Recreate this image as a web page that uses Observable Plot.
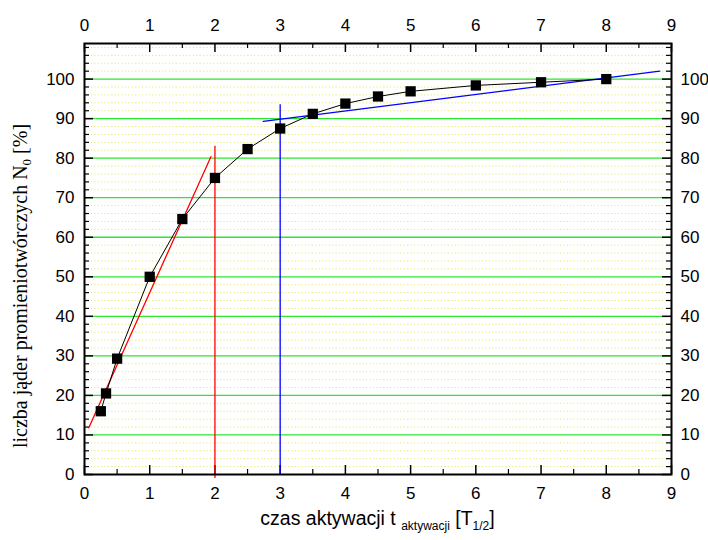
<!DOCTYPE html>
<html>
<head>
<meta charset="utf-8">
<script src="https://cdn.jsdelivr.net/npm/d3@7"></script>
<script src="https://cdn.jsdelivr.net/npm/@observablehq/plot@0.6"></script>
<style>
  body { margin: 0; background: #fff; }
  #chart svg { display: block; }
  #chart svg text.ylab, #chart svg text.ylab tspan { font-family: "Liberation Serif", "DejaVu Serif", "Noto Serif", serif !important; }
</style>
</head>
<body>
<div id="chart"></div>
<script>
// Data
const tValues = [0.25, 0.33, 0.5, 1, 1.5, 2, 2.5, 3, 3.5, 4, 4.5, 5, 6, 7, 8];
const nValues = [16, 20.5, 29.3, 50, 64.6, 75, 82.3, 87.5, 91.2, 93.8, 95.6, 96.9, 98.4, 99.2, 100];

// fitted straight lines (end points)
const redFitT = [0.066, 1.94];
const redFitN = [11.8, 80.4];
const blueFitT = [2.74, 8.82];
const blueFitN = [89.3, 102];

// vertical markers
const redVert = {t: 2, n1: -1, n2: 83};
const blueVert = {t: 3, n1: 0, n2: 93.5};

// ticks
const xMajorTicks = [0, 1, 2, 3, 4, 5, 6, 7, 8, 9];
const xMinorTicks = [0.5, 1.5, 2.5, 3.5, 4.5, 5.5, 6.5, 7.5, 8.5];
const yMajorTicks = [0, 10, 20, 30, 40, 50, 60, 70, 80, 90, 100];
const yMinorTicks = d3.range(2, 110, 2).filter(v => v % 10 !== 0);
const yGridMajor = [10, 20, 30, 40, 50, 60, 70, 80, 90, 100];

const points = tValues.map((t, i) => ({t, n: nValues[i]}));
const redFit = redFitT.map((t, i) => ({t, n: redFitN[i]}));
const blueFit = blueFitT.map((t, i) => ({t, n: blueFitN[i]}));

const W = 708, H = 540;
const mL = 84, mR = 37, mT = 43, mB = 66;
const fw = W - mL - mR, fh = H - mT - mB;
const font = "'Liberation Sans', Arial, sans-serif";

const chart = Plot.plot({
  width: W,
  height: H,
  marginLeft: mL,
  marginRight: mR,
  marginTop: mT,
  marginBottom: mB,
  style: {fontFamily: font, fontSize: "17px", color: "black", background: "white"},
  x: {domain: [0, 9]},
  y: {domain: [0, 109]},
  marks: [
    // grid
    Plot.ruleY(yMinorTicks, {stroke: "#e8e870", strokeWidth: 1, strokeDasharray: "1.2,2.2"}),
    Plot.ruleY(yGridMajor, {stroke: "#2ee62e", strokeWidth: 1.3}),
    // axes text
    Plot.axisX(xMajorTicks, {anchor: "bottom", tickSize: 0, tickPadding: 12, label: null, fontSize: 17}),
    Plot.axisX(xMajorTicks, {anchor: "top", tickSize: 0, tickPadding: 13, label: null, fontSize: 17}),
    Plot.axisY(yMajorTicks, {anchor: "left", tickSize: 0, tickPadding: 10, label: null, fontSize: 17}),
    Plot.axisY(yMajorTicks, {anchor: "right", tickSize: 0, tickPadding: 9, label: null, fontSize: 17}),
    // inward ticks
    Plot.tickY(yMajorTicks, {y: d => d, insetRight: fw - 9, stroke: "black", strokeWidth: 1.5}),
    Plot.tickY(yMinorTicks, {y: d => d, insetRight: fw - 5, stroke: "black", strokeWidth: 1.2}),
    Plot.tickY(yMajorTicks, {y: d => d, insetLeft: fw - 9, stroke: "black", strokeWidth: 1.5}),
    Plot.tickY(yMinorTicks, {y: d => d, insetLeft: fw - 5, stroke: "black", strokeWidth: 1.2}),
    Plot.tickX(xMajorTicks, {x: d => d, insetTop: fh - 9, stroke: "black", strokeWidth: 1.5}),
    Plot.tickX(xMinorTicks, {x: d => d, insetTop: fh - 5, stroke: "black", strokeWidth: 1.2}),
    Plot.tickX(xMajorTicks, {x: d => d, insetBottom: fh - 9, stroke: "black", strokeWidth: 1.5}),
    Plot.tickX(xMinorTicks, {x: d => d, insetBottom: fh - 5, stroke: "black", strokeWidth: 1.2}),
    // fits
    Plot.ruleX([redVert], {x: "t", y1: "n1", y2: "n2", stroke: "#ff0000", strokeWidth: 1.3}),
    Plot.ruleX([blueVert], {x: "t", y1: "n1", y2: "n2", stroke: "#0000ff", strokeWidth: 1.3}),
    Plot.line(redFit, {x: "t", y: "n", stroke: "#ff0000", strokeWidth: 1.3}),
    Plot.line(blueFit, {x: "t", y: "n", stroke: "#0000ff", strokeWidth: 1.3}),
    // data
    Plot.line(points, {x: "t", y: "n", stroke: "black", strokeWidth: 1}),
    Plot.dot(points, {x: "t", y: "n", symbol: "square", fill: "black", r: 5.8}),
    Plot.frame({stroke: "black", strokeWidth: 2})
  ]
});

const svg = d3.select(chart);
// x label
const xl = svg.append("text")
  .attr("x", mL + fw / 2)
  .attr("y", 525)
  .attr("text-anchor", "middle")
  .style("font-family", font)
  .style("font-size", "19.5px")
  .attr("fill", "black");
xl.append("tspan").text("czas aktywacji t ");
xl.append("tspan").text("aktywacji").style("font-size", "12px").attr("dy", 5);
xl.append("tspan").text(" [T").attr("dy", -5);
xl.append("tspan").text("1/2").style("font-size", "12px").attr("dy", 5);
xl.append("tspan").text("]").attr("dy", -5);

// y label
const yl = svg.append("text")
  .attr("class", "ylab")
  .attr("transform", "translate(27,286) rotate(-90)")
  .attr("text-anchor", "middle")
  .attr("font-family", "Liberation Serif, DejaVu Serif, serif")
  .style("font-size", "20px")
  .attr("fill", "black");
yl.append("tspan").text("liczba jąder promieniotwórczych N");
yl.append("tspan").text("0").style("font-size", "13px").attr("dy", 4);
yl.append("tspan").text(" [%]").attr("dy", -4);

document.getElementById("chart").appendChild(chart);
</script>
</body>
</html>
